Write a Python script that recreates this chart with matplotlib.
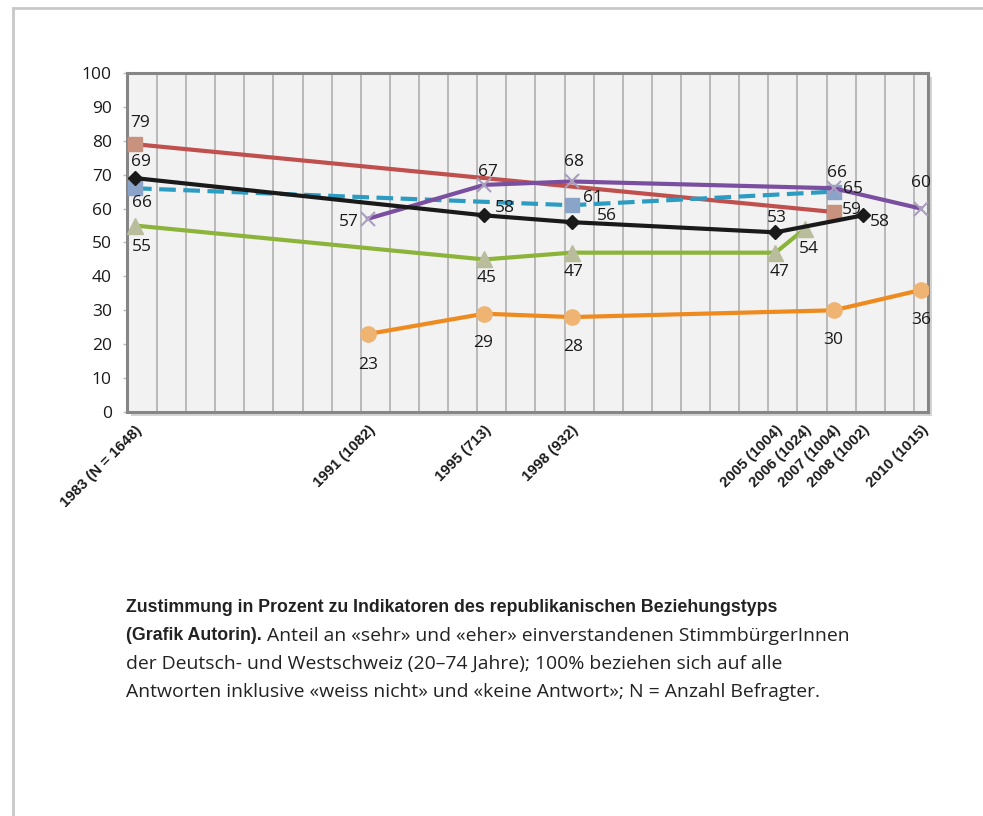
import matplotlib
matplotlib.use("Agg")
import matplotlib.pyplot as plt
from matplotlib.lines import Line2D
from matplotlib.patches import Rectangle
import numpy as np

# ---------------- data ----------------
tick_years = [1983, 1991, 1995, 1998, 2005, 2006, 2007, 2008, 2010]
tick_labels = ["1983 (N = 1648)", "1991 (1082)", "1995 (713)", "1998 (932)",
               "2005 (1004)", "2006 (1024)", "2007 (1004)", "2008 (1002)", "2010 (1015)"]

red_x = [1983, 2007]
red_y = [79, 59]

black_x = [1983, 1995, 1998, 2005, 2008]
black_y = [69, 58, 56, 53, 58]

blue_x = [1983, 1998, 2007]
blue_y = [66, 61, 65]

purple_x = [1991, 1995, 1998, 2007, 2010]
purple_y = [57, 67, 68, 66, 60]

green_x = [1983, 1995, 1998, 2005, 2006]
green_y = [55, 45, 47, 47, 54]

orange_x = [1991, 1995, 1998, 2007, 2010]
orange_y = [23, 29, 28, 30, 36]

caption_lines = [
    [("Zustimmung in Prozent zu Indikatoren des republikanischen Beziehungstyps", "bold")],
    [("(Grafik Autorin).", "bold"),
     (" Anteil an «sehr» und «eher» einverstandenen StimmbürgerInnen", "normal")],
    [("der Deutsch- und Westschweiz (20\u201374 Jahre); 100% beziehen sich auf alle", "normal")],
    [("Antworten inklusive «weiss nicht» und «keine Antwort»; N = Anzahl Befragter.", "normal")],
]

# ---------------- figure ----------------
W, H = 983, 816
fig = plt.figure(figsize=(W / 100, H / 100), dpi=100)
fig.patch.set_facecolor("white")

LBL_FONT = ["Liberation Sans", "DejaVu Sans"]
NUM_FONT = ["Open Sans", "DejaVu Sans"]

# frame lines (top and left)
fig.add_artist(Line2D([13 / W, 1.0], [1 - 8 / H, 1 - 8 / H], color="#c8c8c8", lw=2,
                      transform=fig.transFigure))
fig.add_artist(Line2D([13 / W, 13 / W], [0, 1 - 8 / H], color="#c8c8c8", lw=2,
                      transform=fig.transFigure))

L, R, T, B = 127, 928, 73, 412
ax_pos = [L / W, 1 - B / H, (R - L) / W, (B - T) / H]

# shadow
fig.add_artist(Rectangle(((L + 4) / W, 1 - (B + 4) / H), (R - L) / W, (B - T) / H,
                         transform=fig.transFigure, facecolor="#d4d4d4", edgecolor="none",
                         zorder=0))

ax = fig.add_axes(ax_pos)
ax.set_facecolor("#f2f2f2")
ax.set_zorder(1)
ax.set_xlim(1982.725, 2010.24)
ax.set_ylim(0, 100)

for s in ax.spines.values():
    s.set_color("#868686")
    s.set_linewidth(2.2)

# vertical gridlines
for gx in np.arange(1984, 2011) - 0.245:
    ax.axvline(gx, color="#b4b4b4", lw=1.3, zorder=1)

ax.set_yticks(np.arange(0, 101, 10))
ax.tick_params(axis="y", length=3, width=1, color="#bbbbbb", pad=8, labelsize=12.5,
               labelcolor="#1a1a1a")
for t in ax.get_yticklabels():
    t.set_family(NUM_FONT)

ax.set_xticks(tick_years)
ax.set_xticklabels(tick_labels, rotation=45, ha="right", rotation_mode="anchor",
                   fontsize=10.8, fontweight="bold", family=LBL_FONT, color="#1a1a1a")
ax.tick_params(axis="x", length=0, pad=8)

LW = 3.0
ax.plot(red_x, red_y, color="#c0504d", lw=LW, marker="s", ms=10,
        mfc="#c8927f", mec="#c8927f", zorder=3)
ax.plot(black_x, black_y, color="#1a1a1a", lw=LW, marker="D", ms=7.5,
        mfc="#1a1a1a", mec="#1a1a1a", zorder=4)
ax.plot(blue_x, blue_y, color="#2c9cc3", lw=LW, ls=(0, (4.0, 1.8)), marker="s", ms=10,
        mfc="#8aa3c8", mec="#8aa3c8", zorder=3)
ax.plot(purple_x, purple_y, color="#7a4fa0", lw=LW, marker="x", ms=10, mew=1.5,
        mfc="#a99fbd", mec="#a99fbd", zorder=3)
ax.plot(green_x, green_y, color="#8db43a", lw=LW, marker="^", ms=11,
        mfc="#b9bd9c", mec="#b9bd9c", zorder=3)
ax.plot(orange_x, orange_y, color="#ee8a1e", lw=LW, marker="o", ms=11,
        mfc="#efb372", mec="#efb372", zorder=3)


def lab(x, y, dx, dy, ha="center"):
    ax.annotate(f"{y}", (x, y), xytext=(dx, dy), textcoords="offset pixels",
                ha=ha, va="center", fontsize=12.5, color="#1a1a1a", family=NUM_FONT,
                zorder=6, annotation_clip=False)


# label offsets (pixels): per series
red_off = [(5, 21, "center"), (8, 2, "left")]
black_off = [(6, 16, "center"), (11, 7, "left"), (25, 6, "left"), (1, 14, "center"), (7, -7, "left")]
blue_off = [(7, -15, "center"), (11, 7, "left"), (9, 3, "left")]
purple_off = [(-9, -3, "right"), (4, 13, "center"), (2, 19, "center"), (3, 15, "center"), (0, 26, "center")]
green_off = [(7, -21, "center"), (2, -19, "center"), (2, -19, "center"), (4, -19, "center"), (4, -20, "center")]
orange_off = [(0, -31, "center"), (-1, -29, "center"), (1, -30, "center"), (0, -30, "center"), (0, -30, "center")]

for xs, ys, offs in [(red_x, red_y, red_off), (black_x, black_y, black_off),
                     (blue_x, blue_y, blue_off), (purple_x, purple_y, purple_off),
                     (green_x, green_y, green_off), (orange_x, orange_y, orange_off)]:
    for x, y, (dx, dy, ha) in zip(xs, ys, offs):
        lab(x, y, dx, dy, ha)

# ---------------- caption ----------------
CAP_BOLD = ["Liberation Sans", "DejaVu Sans"]
CAP_REG = ["Open Sans", "DejaVu Sans"]
renderer = fig.canvas.get_renderer()


def measure(text, weight, size, fam):
    t = fig.text(0, 0, text, fontsize=size, fontweight=weight, family=fam)
    w = t.get_window_extent(renderer=renderer).width
    t.remove()
    return w


# choose sizes so that line widths resemble the original layout
bold_size = 13.0 * 647 / measure(caption_lines[0][0][0], "bold", 13.0, CAP_BOLD)
reg_size = 13.0 * 695 / (0.5 * (measure(caption_lines[2][0][0], "normal", 13.0, CAP_REG)
                                + measure(caption_lines[3][0][0], "normal", 13.0, CAP_REG)) + 21)

y0 = 606
line_h = 28
for i, segs in enumerate(caption_lines):
    xpx = 126
    ypx = y0 + i * line_h
    for text, weight in segs:
        fam = CAP_BOLD if weight == "bold" else CAP_REG
        size = bold_size if weight == "bold" else reg_size
        t = fig.text(xpx / W, 1 - ypx / H, text, fontsize=size, fontweight=weight,
                     family=fam, color="#222222", ha="left", va="center_baseline")
        bb = t.get_window_extent(renderer=renderer)
        xpx += bb.width

fig.savefig("out.png", dpi=100)
